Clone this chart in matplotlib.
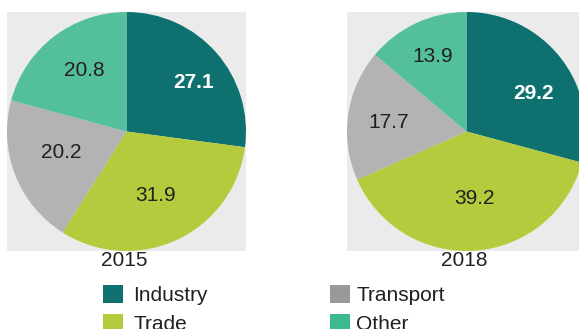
import matplotlib
matplotlib.use("Agg")
import matplotlib.pyplot as plt
import numpy as np
from matplotlib.patches import Patch

plt.rcParams['font.family'] = ['Liberation Sans', 'DejaVu Sans']

# Sector shares (percent) by year
sectors = ["Industry", "Trade", "Transport", "Other"]
years = ["2015", "2018"]
shares_2015 = [27.1, 31.9, 20.2, 20.8]
shares_2018 = [29.2, 39.2, 17.7, 13.9]

pie_colors = ["#0F716F", "#B5CB3E", "#B3B3B3", "#53BF9D"]
legend_colors = ["#0F716F", "#B5CB3E", "#999999", "#3DB992"]
label_colors = ["white", "#231F20", "#231F20", "#231F20"]
label_weights = ["bold", "normal", "normal", "normal"]
text_dark = "#231F20"
panel_bg = "#EBEBEB"
FS = 15

W, H = 579, 329
fig = plt.figure(figsize=(W / 100, H / 100), dpi=100)


def px_axes(x0, y0, w, h):
    return fig.add_axes([x0 / W, 1 - (y0 + h) / H, w / W, h / H])


def draw_pie(ax, values, year, dists, shifts):
    wedges, _ = ax.pie(values, colors=pie_colors, startangle=90,
                       counterclock=False, radius=1.0,
                       wedgeprops=dict(linewidth=0))
    ax.set_frame_on(True)
    ax.set_facecolor(panel_bg)
    for w, v, d, sh, c, fw in zip(wedges, values, dists, shifts,
                                  label_colors, label_weights):
        mid = np.deg2rad((w.theta1 + w.theta2) / 2 + sh)
        ax.text(d * np.cos(mid), d * np.sin(mid), f"{v:.1f}",
                ha="center", va="center", fontsize=FS, color=c,
                fontweight=fw)
    ax.set_xlim(-1, 1)
    ax.set_ylim(-1, 1)
    ax.set_aspect("equal")
    ax.set_xticks([])
    ax.set_yticks([])
    for s in ax.spines.values():
        s.set_visible(False)
    ax.text(0.49, -0.038, year, transform=ax.transAxes, ha="center",
            va="center", fontsize=FS, color=text_dark)


ax1 = px_axes(7, 12, 239, 239)
draw_pie(ax1, shares_2015, years[0],
         [0.70, 0.585, 0.57, 0.62], [-5.0, -0.6, -3.3, -3.2])

ax2 = px_axes(347, 12, 239, 239)
draw_pie(ax2, shares_2018, years[1],
         [0.645, 0.566, 0.657, 0.69], [-7.7, 2.2, 1.6, -0.8])

handles = [Patch(facecolor=c, edgecolor="none") for c in legend_colors]
common = dict(frameon=False, fontsize=FS, handlelength=0.95,
              handleheight=0.95, labelspacing=0.42,
              borderpad=0, borderaxespad=0, loc="upper left",
              labelcolor=text_dark)
fig.legend(handles[:2], sectors[:2], bbox_to_anchor=(103 / W, 1 - 285 / H),
           handletextpad=0.5, **common)
fig.legend(handles[2:], sectors[2:], bbox_to_anchor=(330 / W, 1 - 285 / H),
           handletextpad=0.3, **common)

fig.savefig("out.png", dpi=100)
